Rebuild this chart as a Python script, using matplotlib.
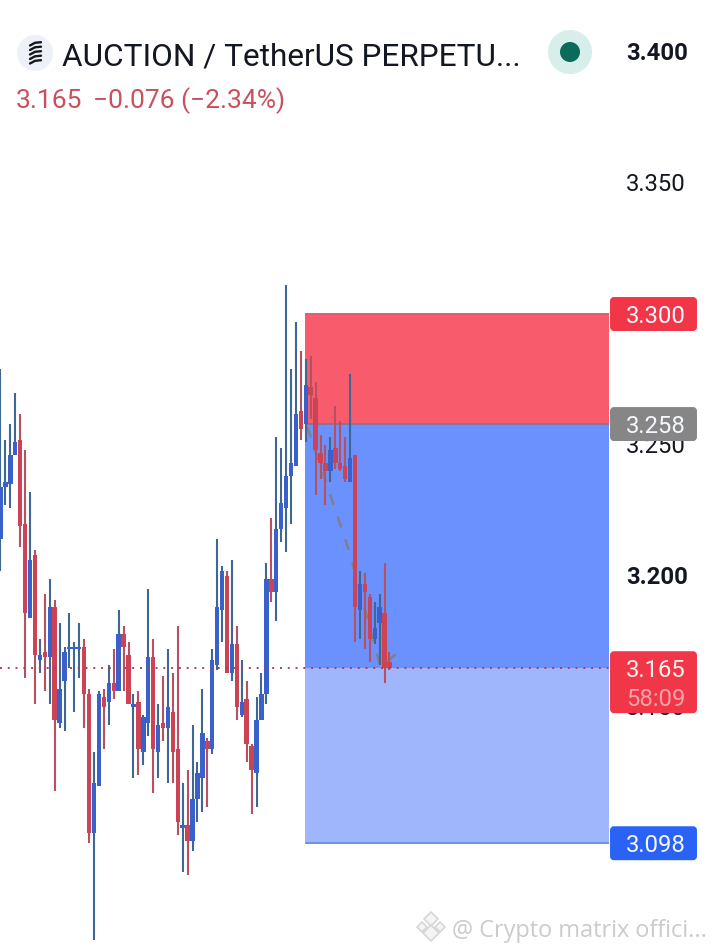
import numpy as np
import matplotlib
matplotlib.use('Agg')
import matplotlib.pyplot as plt
from matplotlib.patches import FancyBboxPatch, Circle, Polygon

plt.rcParams['font.family'] = ['Roboto', 'DejaVu Sans']

# candles
opens = [3.214, 3.234, 3.235, 3.246, 3.252, 3.220, 3.184, 3.208, 3.168, 3.171,
         3.169, 3.188, 3.144, 3.160, 3.172, 3.172, 3.172, 3.173, 3.155, 3.102,
         3.120, 3.154, 3.152, 3.159, 3.156, 3.178, 3.170, 3.150, 3.152, 3.133,
         3.144, 3.169, 3.133, 3.144, 3.142, 3.148, 3.134, 3.104, 3.105, 3.099,
         3.115, 3.123, 3.137, 3.134, 3.166, 3.187, 3.200, 3.163, 3.174, 3.147,
         3.153, 3.135, 3.125, 3.145, 3.155, 3.199, 3.194, 3.218, 3.226, 3.238,
         3.242, 3.263, 3.258, 3.272, 3.268, 3.247, 3.243, 3.240, 3.249, 3.243,
         3.242, 3.236, 3.246, 3.187, 3.197, 3.192, 3.176, 3.182, 3.186, 3.167]
closes = [3.234, 3.236, 3.246, 3.251, 3.219, 3.186, 3.206, 3.170, 3.170, 3.169,
          3.188, 3.145, 3.157, 3.171, 3.173, 3.173, 3.173, 3.155, 3.102, 3.121,
          3.155, 3.150, 3.159, 3.156, 3.178, 3.173, 3.151, 3.151, 3.134, 3.146,
          3.169, 3.134, 3.143, 3.142, 3.150, 3.133, 3.106, 3.105, 3.099, 3.115,
          3.125, 3.140, 3.134, 3.168, 3.188, 3.202, 3.163, 3.174, 3.150, 3.152,
          3.136, 3.126, 3.145, 3.155, 3.199, 3.194, 3.218, 3.228, 3.238, 3.243,
          3.262, 3.256, 3.273, 3.269, 3.248, 3.243, 3.240, 3.248, 3.243, 3.241,
          3.237, 3.245, 3.188, 3.197, 3.194, 3.176, 3.180, 3.188, 3.165, 3.165]
highs = [3.279, 3.252, 3.258, 3.270, 3.262, 3.248, 3.232, 3.210, 3.176, 3.193,
         3.199, 3.191, 3.182, 3.173, 3.186, 3.175, 3.182, 3.176, 3.157, 3.133,
         3.156, 3.157, 3.166, 3.172, 3.187, 3.181, 3.175, 3.155, 3.156, 3.147,
         3.195, 3.176, 3.151, 3.162, 3.172, 3.163, 3.181, 3.121, 3.126, 3.143,
         3.129, 3.157, 3.138, 3.172, 3.214, 3.204, 3.202, 3.206, 3.181, 3.168,
         3.160, 3.136, 3.154, 3.163, 3.205, 3.222, 3.253, 3.249, 3.311, 3.279,
         3.297, 3.286, 3.283, 3.284, 3.274, 3.254, 3.250, 3.253, 3.265, 3.259,
         3.253, 3.277, 3.246, 3.202, 3.201, 3.193, 3.190, 3.193, 3.205, 3.171]
lows = [3.202, 3.227, 3.226, 3.246, 3.211, 3.161, 3.184, 3.151, 3.163, 3.156,
        3.151, 3.118, 3.142, 3.141, 3.165, 3.148, 3.161, 3.142, 3.098, 3.061,
        3.120, 3.134, 3.143, 3.153, 3.156, 3.156, 3.151, 3.123, 3.124, 3.128,
        3.139, 3.117, 3.123, 3.137, 3.121, 3.121, 3.101, 3.087, 3.086, 3.095,
        3.106, 3.110, 3.112, 3.132, 3.164, 3.175, 3.163, 3.160, 3.145, 3.146,
        3.129, 3.109, 3.112, 3.145, 3.151, 3.190, 3.183, 3.213, 3.209, 3.220,
        3.242, 3.252, 3.251, 3.260, 3.231, 3.237, 3.227, 3.236, 3.241, 3.240,
        3.236, 3.236, 3.175, 3.176, 3.172, 3.167, 3.174, 3.166, 3.159, 3.164]

# levels of the position tool
stop_price = 3.300
entry_price = 3.258
last_price = 3.165
target_price = 3.098
tool_start = 61.9
tool_end = 123.5

# dashed path of the tool
path_bars = [62.3, 70.9, 77.2, 80.2]
path_prices = [3.257, 3.209, 3.165, 3.170]

# 3.300 and 3.100 sit fully behind the badges, so they are not drawn
axis_ticks = [3.400, 3.350, 3.250, 3.200, 3.150]
bold_ticks = [3.400, 3.200]

UP_BODY, UP_WICK = '#3a60cc', '#3f6794'
DOWN_BODY, DOWN_WICK = '#cd4356', '#b8505f'

W, H = 718, 953
fig = plt.figure(figsize=(W / 100, H / 100), dpi=100, facecolor='white')

ax = fig.add_axes([0, 0, 1, 1])
ax.set_xlim(-0.1, W / 4.924 - 0.1)
ax.set_ylim(3.05649, 3.42023)
ax.axis('off')

# tool zones
ax.fill_between([tool_start, tool_end], entry_price, stop_price, color='#f85c6c', lw=0, zorder=1)
ax.fill_between([tool_start, tool_end], last_price, entry_price, color='#6a91fd', lw=0, zorder=1)
ax.fill_between([tool_start, tool_end], target_price, last_price, color='#9fb6fd', lw=0, zorder=1)
ax.hlines(stop_price, tool_start, tool_end, color='#d9606e', lw=1.4, zorder=2)
ax.hlines(entry_price, tool_start, tool_end, color='#8a6f8f', lw=1.2, zorder=2)
ax.hlines(target_price, tool_start, tool_end, color='#7092dc', lw=1.4, zorder=2)

# candles
bars = np.arange(len(opens))
o, c, hi, lo = map(np.array, (opens, closes, highs, lows))
up = c >= o
ax.vlines(bars[up], lo[up], hi[up], color=UP_WICK, lw=1.5, zorder=3)
ax.vlines(bars[~up], lo[~up], hi[~up], color=DOWN_WICK, lw=1.5, zorder=3)
ax.bar(bars[up], (c - o)[up], bottom=o[up], width=0.9, color=UP_BODY, lw=0, zorder=4)
ax.bar(bars[~up], (o - c)[~up], bottom=c[~up], width=0.9, color=DOWN_BODY, lw=0, zorder=4)

ax.plot(path_bars, path_prices, color='#7f7f92', lw=1.8, ls=(0, (4.5, 5)), zorder=2.5)
ax.hlines(last_price, -0.1, tool_end, color='#a8405c', lw=1.4, ls=(0, (1, 3)), zorder=6)

# price scale
for t in axis_ticks:
    ax.annotate(f'{t:.3f}', (127.1, t), xytext=(0, 1.1), textcoords='offset points',
                fontsize=17.2, va='center_baseline', color='#131722',
                fontweight='bold' if t in bold_ticks else 'normal', zorder=7)

# overlay in pixel coordinates for the app chrome
ui = fig.add_axes([0, 0, 1, 1], facecolor='none')
ui.set_xlim(0, W)
ui.set_ylim(H, 0)
ui.axis('off')


def price_px(price):
    return H - ax.transData.transform((0, price))[1]


def badge(top, bottom, color):
    ui.add_patch(FancyBboxPatch((611, top + 1), 85, bottom - top - 2,
                                boxstyle='round,pad=0,rounding_size=3', fc=color, ec=color, lw=1.4, zorder=8))


for price, color in [(stop_price, '#f03647'), (entry_price, '#868686'), (target_price, '#2962f5')]:
    y = price_px(price)
    badge(y - 17, y + 17, color)
    ui.text(656, y - 1.5, f'{price:.3f}', fontsize=17.2, color='#f6f8ff', ha='center',
            va='center_baseline', zorder=9)

y = price_px(last_price)
badge(y - 16.5, y + 45.5, '#f03647')
ui.text(656, y - 0.5, f'{last_price:.3f}', fontsize=17.2, color='#fff0f0', ha='center', va='center_baseline', zorder=9)
ui.text(656, y + 28.5, '58:09', fontsize=17.2, color='#fba3ab', ha='center', va='center_baseline', zorder=9)

# header
ui.add_patch(Circle((35, 54), 18, fc='#eef1f8', ec='none'))
for yy in [45, 49.5, 54, 58.5, 63]:
    ui.plot([30, 35, 41], [yy + 1.5, yy - 1.2, yy - 1.8], color='#15171c', lw=1.7,
            solid_capstyle='round')
ui.text(62, 65, 'AUCTION / TetherUS PERPETU...', fontsize=22.7, color='#131722', va='baseline')
ui.text(16, 108, '3.165', fontsize=19, color='#c9505f', va='baseline')
ui.text(93, 108, '\u22120.076 (\u22122.34%)', fontsize=19, color='#c9505f', va='baseline')
ui.add_patch(Circle((570, 53), 22, fc='#d8eeeb', ec='none'))
ui.add_patch(Circle((570, 53), 10, fc='#0b6b5a', ec='none'))

# watermark
for dx, dy, s in [(0, -8, 7), (-9, 0, 5), (9, 0, 5), (0, 6, 8)]:
    ui.add_patch(Polygon([(431 + dx, 928 + dy - s), (431 + dx + s, 928 + dy),
                          (431 + dx, 928 + dy + s), (431 + dx - s, 928 + dy)],
                         closed=True, fc='#f4f4f4', ec='#d4d4d4', lw=1.1))
ui.text(452, 937, '@ Crypto matrix offici...', fontsize=16.9, color='#cbcbcb',
        family=['Open Sans', 'DejaVu Sans'], va='baseline')

fig.savefig('out.png', dpi=100)
